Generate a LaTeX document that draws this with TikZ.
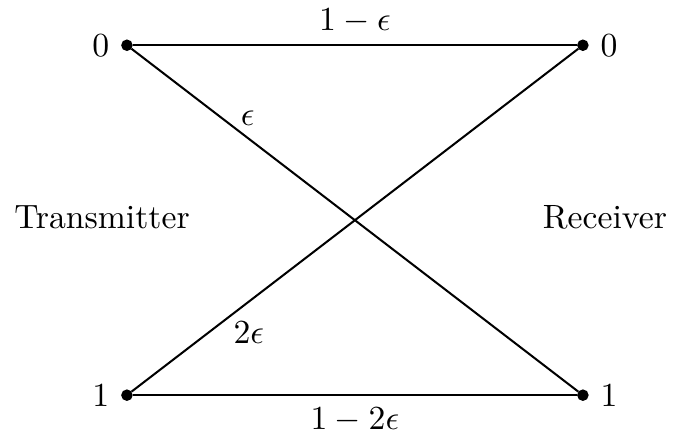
\documentclass[tikz,border=0pt]{standalone}

\begin{document}
\begin{tikzpicture}
  % Styles
  \tikzset{
    pt/.style={fill=black, draw=black, circle, minimum size=3pt, inner sep=0pt},
    canal/.style={semithick},
  }

  % Cadre
  \useasboundingbox (0,0) rectangle (7.02,4.56);

  % Symboles
  \node[pt] (x0) at (1.324,4.088) {};
  \node[pt] (x1) at (1.324,0.438) {};
  \node[pt] (y0) at (6.08,4.088) {};
  \node[pt] (y1) at (6.08,0.438) {};

  \node[left] (lx0) at (x0.west) {0};
  \node[left] (lx1) at (x1.west) {1};
  \node[right] (ly0) at (y0.east) {0};
  \node[right] (ly1) at (y1.east) {1};

  % Cotes
  \node (tx) at (1.064,2.294) {Transmitter};
  \node (rx) at (6.31,2.294) {Receiver};

  % Transitions
  \draw[canal] (x0) -- node[above] (p00) {$1-\epsilon$} (y0);
  \draw[canal] (x0) -- node[pos=0.26, above] (p01) {$\epsilon$} (y1);
  \draw[canal] (x1) -- node[pos=0.24, below, xshift=3pt] (p10) {$2\epsilon$} (y0);
  \draw[canal] (x1) -- node[below] (p11) {$1-2\epsilon$} (y1);

\end{tikzpicture}
\end{document}
